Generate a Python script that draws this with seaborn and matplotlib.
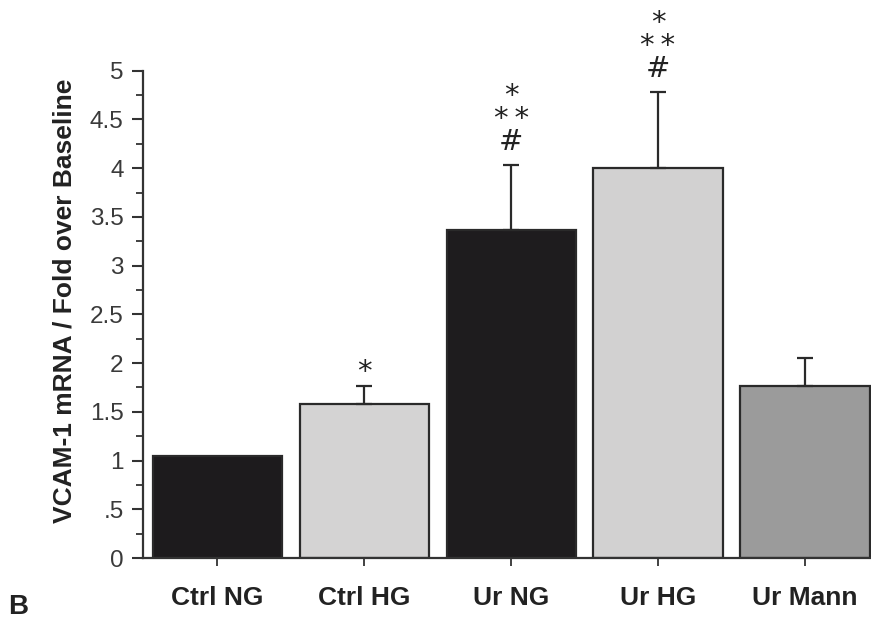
import numpy as np
import pandas as pd
import matplotlib
matplotlib.use("Agg")
import matplotlib.pyplot as plt
from matplotlib.ticker import MultipleLocator, FuncFormatter
from matplotlib.transforms import offset_copy
import seaborn as sns

# Group labels, mean fold change and upper SE per group
categories = ["Ctrl NG", "Ctrl HG", "Ur NG", "Ur HG", "Ur Mann"]
fold_change = [1.05, 1.58, 3.37, 4.00, 1.77]
upper_error = [0.00, 0.19, 0.66, 0.78, 0.28]
significance = ["", "*", "*\n*\u2009*\n#", "*\n*\u2009*\n#", ""]
bar_colors = ["#1d1b1d", "#d4d3d3", "#1e1c1e", "#d2d1d1", "#9b9b9b"]

sns.set_theme(style="white")
plt.rcParams["font.family"] = ["Liberation Sans", "DejaVu Sans"]

fig = plt.figure(figsize=(8.71, 6.27), dpi=100)
ax = fig.add_axes([0.1642, 0.110, 0.8358, 0.7772])

df = pd.DataFrame({"group": categories, "fold": fold_change})
sns.barplot(data=df, x="group", y="fold", hue="group", palette=bar_colors,
            legend=False, width=0.88, edgecolor="#2a2a2a", linewidth=1.6,
            errorbar=None, ax=ax, zorder=2)

# one-sided (upper) error bars
xs = np.arange(len(categories))
err = np.array(upper_error)
vals = np.array(fold_change)
mask = err > 0
ax.errorbar(xs[mask], vals[mask], yerr=[np.zeros(mask.sum()), err[mask]],
            fmt="none", ecolor="#2a2a2a", elinewidth=1.6, capsize=6,
            capthick=1.6, zorder=3)

# significance markers stacked above each error bar
for i, marks in enumerate(significance):
    if not marks:
        continue
    top = vals[i] + err[i]
    dy = 15 if marks.endswith("#") else 6  # baseline offset in pixels
    trans = offset_copy(ax.transData, fig=fig, x=0, y=dy * 0.72,
                        units="points")
    ax.text(i, top, marks, transform=trans, ha="center", va="baseline",
            multialignment="center", fontsize=21, linespacing=0.78,
            color="#222222", family=["DejaVu Sans"], clip_on=False)

ax.set_ylim(0, 5)
ax.set_xlim(-0.507, 4.45)
ax.yaxis.set_major_locator(MultipleLocator(0.5))
ax.yaxis.set_minor_locator(MultipleLocator(0.25))


def fmt(v, _):
    s = ("%g" % v)
    return s[1:] if s.startswith("0.") else s


ax.yaxis.set_major_formatter(FuncFormatter(fmt))
ax.tick_params(axis="y", which="major", direction="out", length=8, width=1.5,
               color="#333333", labelsize=17.5, labelcolor="#3a3a3a", pad=6, left=True)
ax.tick_params(axis="y", which="minor", direction="out", length=5, width=1.3,
               color="#333333", left=True)
ax.tick_params(axis="x", which="major", direction="out", length=6, width=1.3,
               color="#333333", pad=14, bottom=True)

for lab in ax.get_xticklabels():
    lab.set_fontweight("bold")
    lab.set_fontsize(19)
    lab.set_color("#222222")

sns.despine(ax=ax, top=True, right=True)
for side in ("left", "bottom"):
    ax.spines[side].set_color("#333333")
    ax.spines[side].set_linewidth(1.6)

ax.set_xlabel("")
ax.set_ylabel("VCAM-1 mRNA / Fold over Baseline", fontsize=19,
              fontweight="bold", color="#222222")
ax.yaxis.set_label_coords(-0.091, 0.527)

fig.text(0.009, 0.032, "B", fontsize=20, fontweight="bold", color="#222222",
         ha="left", va="center")

fig.savefig("out.png", dpi=100)
